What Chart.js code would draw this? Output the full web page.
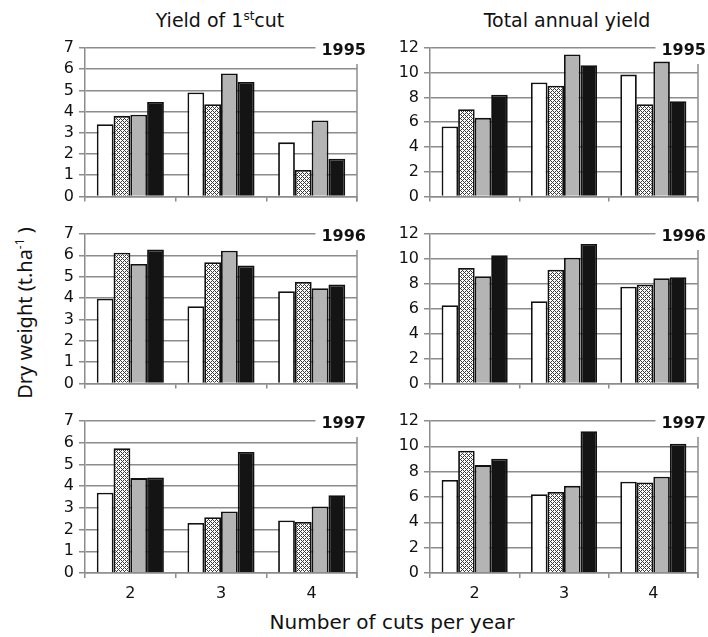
<!DOCTYPE html>
<html><head><meta charset="utf-8">
<script src="https://cdn.jsdelivr.net/npm/chart.js@4/dist/chart.umd.min.js"></script>
<style>
body{margin:0;background:#fff;width:708px;height:637px;position:relative;overflow:hidden;font-family:"DejaVu Sans",sans-serif;color:#111;}
canvas{position:absolute;}
.t{position:absolute;font-size:19px;white-space:nowrap;transform:translateX(-50%);}
.t sup{font-size:12px;}
#ylab{position:absolute;left:24px;top:313px;transform:translate(-50%,-50%) rotate(-90deg);font-family:"Noto Sans",sans-serif;font-size:20px;white-space:nowrap;}
#ylab sup{font-size:12px;}
</style></head><body>
<div class="t" style="left:220px;top:9px">Yield of 1<sup>st</sup>cut</div>
<div class="t" style="left:567px;top:9px">Total annual yield</div>
<div id="ylab">Dry weight (t.ha<sup>-1</sup> )</div>
<div class="t" style="left:392px;top:610px;font-size:20px">Number of cuts per year</div>
<canvas id="c0"></canvas><canvas id="c1"></canvas>
<canvas id="c2"></canvas><canvas id="c3"></canvas>
<canvas id="c4"></canvas><canvas id="c5"></canvas>
<script>
// ---- data ----
const categories = ['2', '3', '4'];
const seriesNames = ['Treatment 1', 'Treatment 2', 'Treatment 3', 'Treatment 4'];
const years = ['1995', '1996', '1997'];

// Yield of 1st cut (per series: values for 2,3,4 cuts)
const first1995 = [[3.4, 4.9, 2.55], [3.8, 4.35, 1.25], [3.85, 5.8, 3.58], [4.45, 5.4, 1.78]];
const first1996 = [[3.97, 3.62, 4.32], [6.12, 5.68, 4.75], [5.6, 6.22, 4.46], [6.27, 5.52, 4.63]];
const first1997 = [[3.7, 2.3, 2.42], [5.75, 2.57, 2.35], [4.37, 2.83, 3.06], [4.4, 5.57, 3.58]];

// Total annual yield
const total1995 = [[5.65, 9.22, 9.85], [7.05, 8.95, 7.45], [6.35, 11.48, 10.9], [8.22, 10.6, 7.7]];
const total1996 = [[6.28, 6.6, 7.77], [9.27, 9.13, 7.93], [8.6, 10.1, 8.45], [10.3, 11.2, 8.53]];
const total1997 = [[7.35, 6.22, 7.2], [9.65, 6.4, 7.14], [8.52, 6.88, 7.6], [9.02, 11.2, 10.2]];

const firstTicks = {max: 7, step: 1};
const totalTicks = {max: 12, step: 2};

// ---- styles ----
const gridColor = '#8c8c8c';
const tickFont = {family: 'DejaVu Sans', size: 16};

function hatch() {
  const c = document.createElement('canvas');
  c.width = 4; c.height = 4;
  const g = c.getContext('2d');
  g.fillStyle = '#fff'; g.fillRect(0, 0, 4, 4);
  g.fillStyle = '#3a3a3a';
  for (let x = 0; x < 4; x++) for (let y = 0; y < 4; y++) {
    if ((x + y) % 4 === 0 || ((x - y) % 4 + 4) % 4 === 0) g.fillRect(x, y, 1, 1);
  }
  return g.createPattern(c, 'repeat');
}
const fills = ['#ffffff', hatch(), '#b4b4b4', '#141414'];

const deco = {
  id: 'deco',
  afterDraw(chart, args, o) {
    const {ctx, chartArea: a} = chart;
    ctx.save();
    ctx.strokeStyle = gridColor; ctx.lineWidth = 1.5;
    ctx.beginPath(); ctx.moveTo(a.right, a.top + 16); ctx.lineTo(a.right, a.bottom + 5); ctx.stroke();
    ctx.font = 'bold 16px "DejaVu Sans"';
    ctx.textAlign = 'right'; ctx.textBaseline = 'middle';
    const w = ctx.measureText(o.text).width;
    ctx.fillStyle = '#fff';
    ctx.fillRect(o.x - w - 6, a.top - 6, w + 7, 16);
    ctx.fillStyle = '#111';
    ctx.fillText(o.text, o.x, a.top + 3);
    ctx.restore();
  }
};

function panel(id, cfg) {
  const cv = document.getElementById(id);
  cv.width = cfg.w; cv.height = cfg.h;
  cv.style.left = cfg.left + 'px'; cv.style.top = cfg.top + 'px';
  new Chart(cv, {
    type: 'bar',
    data: {
      labels: categories,
      datasets: cfg.data.map((vals, i) => ({
        label: seriesNames[i], data: vals,
        backgroundColor: fills[i], borderColor: '#111', borderWidth: 1.8,
        categoryPercentage: 0.74, barPercentage: 1.0
      }))
    },
    options: {
      responsive: false, animation: false,
      layout: {padding: {top: 18, right: cfg.padR, bottom: 0, left: 0}},
      plugins: {legend: {display: false}, tooltip: {enabled: false}, deco: {text: cfg.year, x: cfg.yearX}},
      scales: {
        x: {
          ticks: {display: cfg.labels, font: tickFont, color: '#111', padding: 6},
          grid: {drawOnChartArea: false, color: gridColor, lineWidth: 1.5, tickLength: 5, offset: true},
          border: {color: gridColor, width: 1.5},
          afterFit(s) { s.height = cfg.xh; }
        },
        y: {
          min: 0, max: cfg.ticks.max,
          ticks: {stepSize: cfg.ticks.step, font: tickFont, color: '#111', padding: 5, autoSkip: false},
          grid: {color: gridColor, lineWidth: 1.5, tickLength: 6},
          border: {color: gridColor, width: 1.5},
          afterFit(s) { s.width = cfg.yw; }
        }
      }
    },
    plugins: [deco]
  });
}

const rows = [
  {top: 30, bottom: 201, xh: 10, labels: false},
  {top: 216, bottom: 388, xh: 10, labels: false},
  {top: 403, bottom: 573, xh: 35, labels: true}
];
const firstData = [first1995, first1996, first1997];
const totalData = [total1995, total1996, total1997];
rows.forEach((r, i) => {
  const h = r.bottom - r.top + r.xh;
  panel('c' + (2 * i), {left: 0, top: r.top, w: 372, h, xh: r.xh, labels: r.labels, yw: 85, padR: 15,
    data: firstData[i], ticks: firstTicks, year: years[i], yearX: 366});
  panel('c' + (2 * i + 1), {left: 372, top: r.top, w: 336, h, xh: r.xh, labels: r.labels, yw: 58, padR: 10,
    data: totalData[i], ticks: totalTicks, year: years[i], yearX: 334});
});
</script>
</body></html>
